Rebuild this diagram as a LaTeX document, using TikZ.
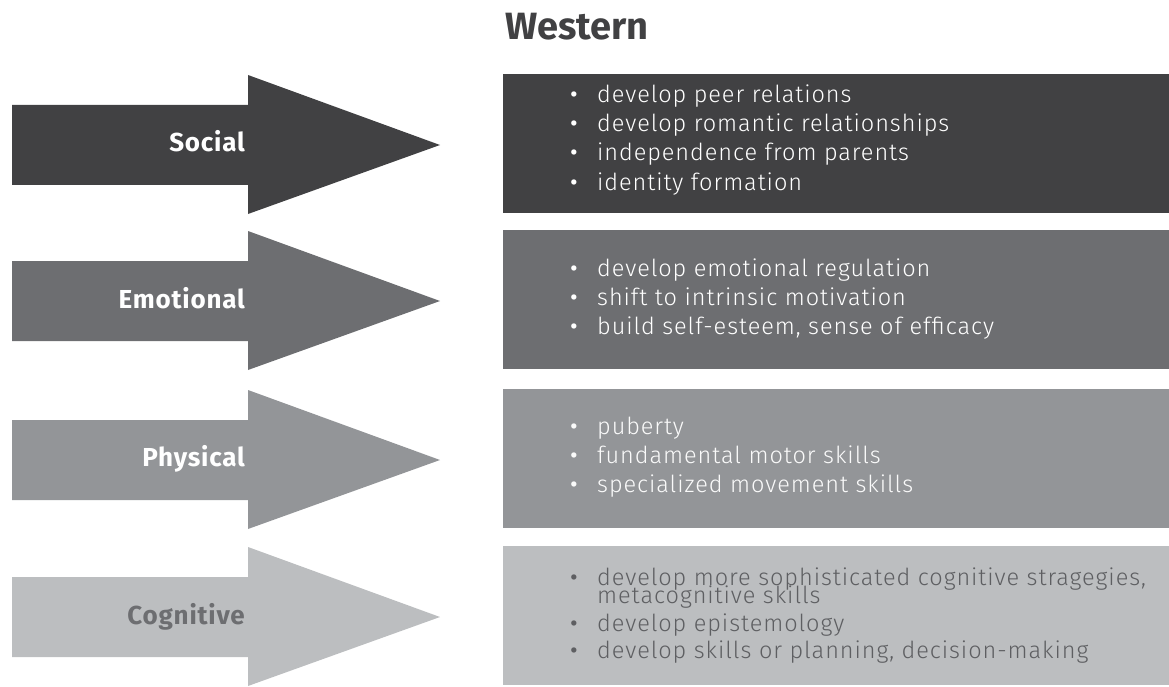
\documentclass[tikz,border=0pt]{standalone}
\usepackage{fontspec}
\setmainfont{Fira Sans}
\newfontfamily\itemfont{Fira Sans}[UprightFont=* Light, LetterSpace=4]
\newfontfamily\labelfont{Fira Sans}[LetterSpace=3]
\definecolor{cA}{HTML}{414143}
\definecolor{cB}{HTML}{6D6E71}
\definecolor{cC}{HTML}{939598}
\definecolor{cD}{HTML}{BCBEC0}
\definecolor{tD}{HTML}{5E5F62}
\tikzset{
  lbl/.style={anchor=base east, font=\labelfont\fontsize{26}{30}\selectfont\bfseries, inner sep=0pt},
  item/.style={anchor=base west, inner sep=0pt, font=\itemfont\fontsize{23.5}{29}\selectfont},
  ttl/.style={anchor=base west, inner sep=0pt, font=\fontsize{38}{42}\selectfont\bfseries, text=cA}
}
\newcommand{\bul}{\makebox[30pt][l]{\hspace{3pt}{\normalfont\fontsize{23.5}{29}\selectfont •}}}
\newcommand{\rowshape}[2]{%
  \fill[#2] (12,#1+31) -- (248,#1+31) -- (248,#1+1) -- (440,#1+71) -- (248,#1+140) -- (248,#1+111) -- (12,#1+111) -- cycle;
  \fill[#2] (503,#1) rectangle (1169,#1+139);}
\begin{document}
\begin{tikzpicture}[x=1pt,y=-1pt]
\useasboundingbox (0,0) rectangle (1169,687);
\node[ttl] (title) at (505,40) {Western};
\rowshape{74}{cA}
\rowshape{230}{cB}
\rowshape{389}{cC}
\rowshape{546}{cD}
\node[lbl, text=white] (social) at (245,152) {Social};
\node[lbl, text=white] (emotional) at (245,308) {Emotional};
\node[lbl, text=white] (physical) at (245,466) {Physical};
\node[lbl, text=cB] (cognitive) at (245,624) {Cognitive};
\begin{scope}[every node/.style={item, text=white}]
\node (s1) at (567,103) {\bul develop peer relations};
\node (s2) at (567,132) {\bul develop romantic relationships};
\node (s3) at (567,161) {\bul independence from parents};
\node (s4) at (567,190) {\bul identity formation};
\node (e1) at (567,276) {\bul develop emotional regulation};
\node (e2) at (567,305) {\bul shift to intrinsic motivation};
\node (e3) at (567,334) {\bul build self-esteem, sense of efficacy};
\end{scope}
\begin{scope}[every node/.style={item, text=white!95!cC}]
\node (p1) at (567,434) {\bul puberty};
\node (p2) at (567,463) {\bul fundamental motor skills};
\node (p3) at (567,492) {\bul specialized movement skills};
\end{scope}
\begin{scope}[every node/.style={item, text=tD}]
\node (c1) at (567,585) {\bul develop more sophisticated cognitive stragegies,};
\node (c2) at (597,603) {metacognitive skills};
\node (c3) at (567,631) {\bul develop epistemology};
\node (c4) at (567,658) {\bul develop skills or planning, decision-making};
\end{scope}
\end{tikzpicture}
\end{document}
